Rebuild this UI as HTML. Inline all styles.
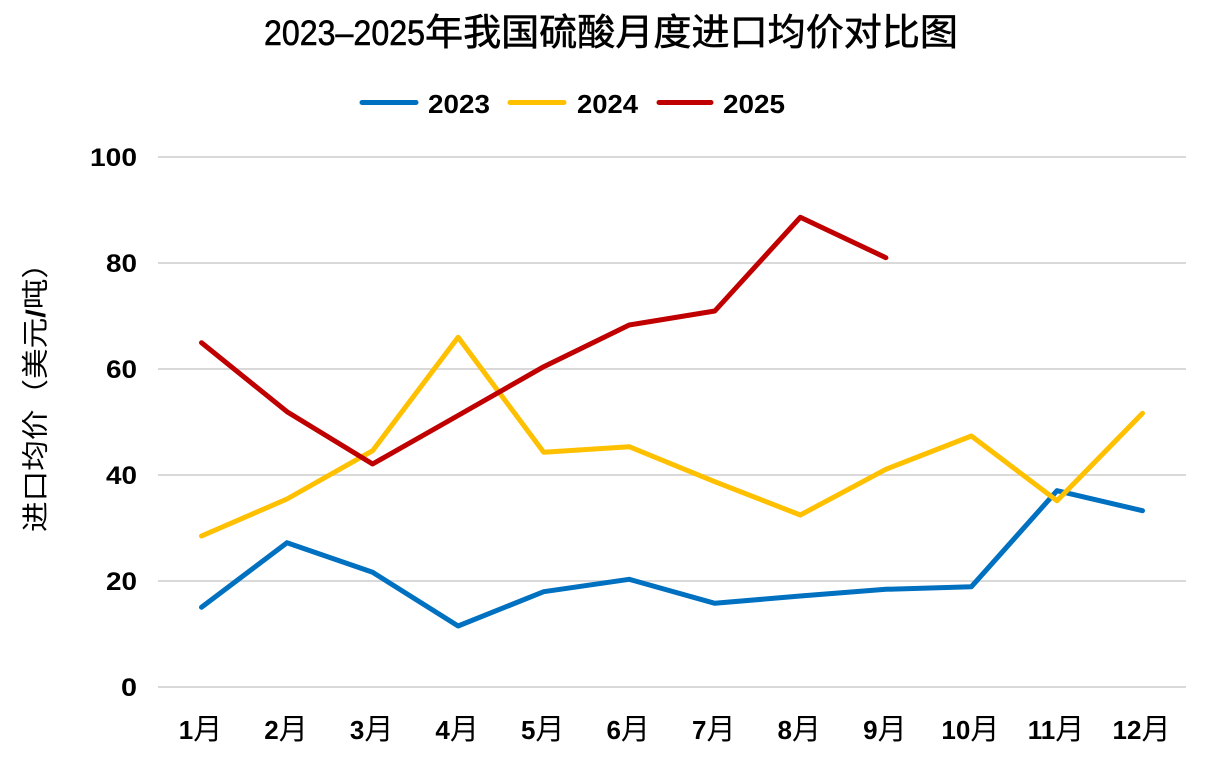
<!DOCTYPE html>
<html>
<head>
<meta charset="utf-8">
<style>
html,body{margin:0;padding:0;background:#fff;}
svg{display:block;}
</style>
</head>
<body>
<svg width="1208" height="759" viewBox="0 0 1208 759" xmlns="http://www.w3.org/2000/svg">
  <rect width="1208" height="759" fill="#fff"/>
  <!-- Title -->
  <text y="45" font-family="'Liberation Sans','Noto Sans CJK SC',sans-serif" fill="#000" stroke="#000" stroke-width="0.6">
    <tspan x="264" font-size="35" textLength="161" lengthAdjust="spacingAndGlyphs">2023–2025</tspan><tspan x="425" font-size="37" font-family="'Noto Sans CJK SC',sans-serif" textLength="533" lengthAdjust="spacingAndGlyphs">年我国硫酸月度进口均价对比图</tspan>
  </text>

  <!-- Legend -->
  <g stroke-width="5" stroke-linecap="round">
    <line x1="362" y1="102.5" x2="416" y2="102.5" stroke="#0070C0"/>
    <line x1="510" y1="102.5" x2="564" y2="102.5" stroke="#FFC000"/>
    <line x1="659" y1="102.5" x2="711" y2="102.5" stroke="#C00000"/>
  </g>
  <g font-family="'Liberation Sans',sans-serif" font-weight="bold" font-size="26" fill="#000">
    <text x="428" y="113" textLength="62" lengthAdjust="spacingAndGlyphs">2023</text>
    <text x="577" y="113" textLength="61" lengthAdjust="spacingAndGlyphs">2024</text>
    <text x="723" y="113" textLength="62" lengthAdjust="spacingAndGlyphs">2025</text>
  </g>

  <!-- Gridlines -->
  <g stroke="#D9D9D9" stroke-width="2">
    <line x1="158" y1="157" x2="1186" y2="157"/>
    <line x1="158" y1="263" x2="1186" y2="263"/>
    <line x1="158" y1="369" x2="1186" y2="369"/>
    <line x1="158" y1="475" x2="1186" y2="475"/>
    <line x1="158" y1="581" x2="1186" y2="581"/>
    <line x1="158" y1="687" x2="1186" y2="687"/>
  </g>

  <!-- Y tick labels -->
  <g font-family="'Liberation Sans',sans-serif" font-weight="bold" font-size="25" fill="#000" text-anchor="end">
    <text x="137" y="166" textLength="47" lengthAdjust="spacingAndGlyphs">100</text>
    <text x="137" y="272" textLength="31" lengthAdjust="spacingAndGlyphs">80</text>
    <text x="137" y="378" textLength="31" lengthAdjust="spacingAndGlyphs">60</text>
    <text x="137" y="484" textLength="31" lengthAdjust="spacingAndGlyphs">40</text>
    <text x="137" y="590" textLength="31" lengthAdjust="spacingAndGlyphs">20</text>
    <text x="137" y="696" textLength="16" lengthAdjust="spacingAndGlyphs">0</text>
  </g>

  <!-- Y axis title -->
  <text transform="translate(45,390) rotate(-90)" text-anchor="middle" font-family="'Liberation Sans','Noto Sans CJK SC',sans-serif" font-size="27" fill="#000" textLength="284" lengthAdjust="spacingAndGlyphs">进口均价（美元<tspan font-weight="bold">/</tspan>吨）</text>

  <!-- X labels -->
  <g font-family="'Liberation Sans','Noto Sans CJK SC',sans-serif" fill="#000" font-size="26">
    <text x="200.5" y="739" text-anchor="middle"><tspan font-weight="bold">1</tspan><tspan font-size="29">月</tspan></text>
    <text x="286" y="739" text-anchor="middle"><tspan font-weight="bold">2</tspan><tspan font-size="29">月</tspan></text>
    <text x="371.6" y="739" text-anchor="middle"><tspan font-weight="bold">3</tspan><tspan font-size="29">月</tspan></text>
    <text x="457.1" y="739" text-anchor="middle"><tspan font-weight="bold">4</tspan><tspan font-size="29">月</tspan></text>
    <text x="542.7" y="739" text-anchor="middle"><tspan font-weight="bold">5</tspan><tspan font-size="29">月</tspan></text>
    <text x="628.2" y="739" text-anchor="middle"><tspan font-weight="bold">6</tspan><tspan font-size="29">月</tspan></text>
    <text x="713.8" y="739" text-anchor="middle"><tspan font-weight="bold">7</tspan><tspan font-size="29">月</tspan></text>
    <text x="799.3" y="739" text-anchor="middle"><tspan font-weight="bold">8</tspan><tspan font-size="29">月</tspan></text>
    <text x="884.9" y="739" text-anchor="middle"><tspan font-weight="bold">9</tspan><tspan font-size="29">月</tspan></text>
    <text x="970.4" y="739" text-anchor="middle"><tspan font-weight="bold">10</tspan><tspan font-size="29">月</tspan></text>
    <text x="1056" y="739" text-anchor="middle"><tspan font-weight="bold">11</tspan><tspan font-size="29">月</tspan></text>
    <text x="1141.5" y="739" text-anchor="middle"><tspan font-weight="bold">12</tspan><tspan font-size="29">月</tspan></text>
  </g>

  <!-- Series -->
  <g fill="none" stroke-width="5" stroke-linecap="round" stroke-linejoin="round">
    <polyline stroke="#0070C0" points="201.5,607.3 287,542.7 372.6,572.3 458.1,626 543.7,591.7 629.2,579.3 714.8,603.3 800.3,596 885.9,589.3 971.4,586.7 1057,490.7 1142.5,510.7"/>
    <polyline stroke="#FFC000" points="201.5,536 287,499 372.6,450.7 458.1,337.3 543.7,452.3 629.2,446.7 714.8,481.7 800.3,515 885.9,469.3 971.4,436 1057,500.7 1142.5,413.3"/>
    <polyline stroke="#C00000" points="201.5,342.7 287,411.7 372.6,464 458.1,415.5 543.7,366.7 629.2,325 714.8,311 800.3,217.3 885.9,257.7"/>
  </g>
</svg>
</body>
</html>
